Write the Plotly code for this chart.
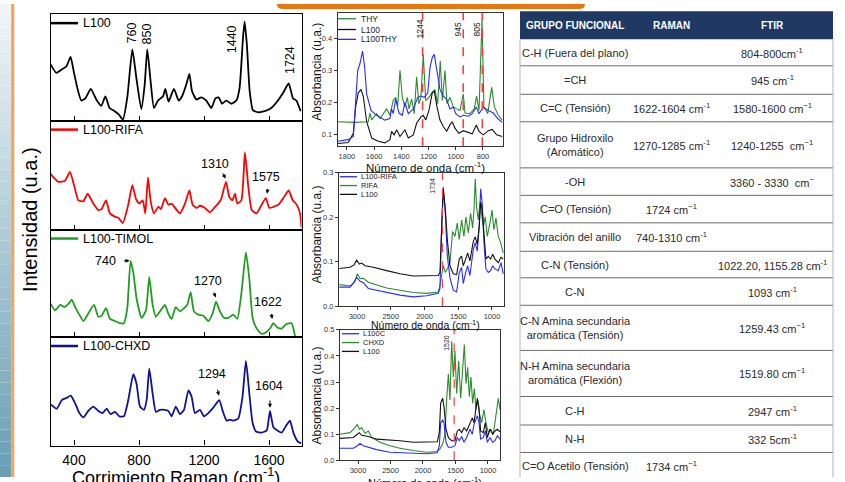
import plotly.graph_objects as go

W, H = 845, 482
FONT = "Liberation Sans, Arial, sans-serif"

# ---------------- Raman data (wavenumber cm-1, relative intensity per sub-panel) -------------
raman_ticks = [400, 800, 1200, 1600]

raman_l100_x = [256,291,322,353,379,400,425,445,470,503,537,568,593,619,650,675,701,728,759,784,
                814,835,851,872,892,917,948,962,982,1015,1044,1065,1091,1110,1126,1153,1183,1214,1245,1270,
                1290,1311,1337,1368,1399,1419,1440,1450,1464,1481,1501,1532,1573,1614,1655,1686,1721,1748,1768,1795]
raman_l100_y = [0.53,0.45,0.48,0.51,0.60,0.45,0.28,0.19,0.21,0.30,0.20,0.14,0.23,0.12,0.09,0.06,0.01,0.22,0.67,0.40,
                0.11,0.34,0.67,0.36,0.12,0.19,0.23,0.30,0.18,0.30,0.19,0.23,0.34,0.44,0.28,0.20,0.22,0.19,0.12,0.21,
                0.22,0.16,0.19,0.16,0.19,0.31,0.78,0.93,0.71,0.28,0.10,0.08,0.09,0.12,0.19,0.26,0.35,0.21,0.19,0.09]

raman_rifa_x = [257,303,345,375,400,427,457,484,519,550,570,597,621,652,673,700,734,759,782,802,
                823,839,855,872,892,919,935,960,980,1001,1022,1052,1083,1110,1130,1155,1175,1206,1237,1268,
                1303,1335,1356,1374,1391,1405,1430,1452,1473,1494,1524,1555,1580,1602,1627,1658,1688,1721,1746,1770,
                1791,1800]
raman_rifa_y = [0.51,0.44,0.45,0.53,0.41,0.27,0.26,0.33,0.24,0.18,0.19,0.27,0.15,0.12,0.11,0.06,0.23,0.41,0.28,0.24,
                0.27,0.15,0.48,0.26,0.15,0.21,0.19,0.29,0.23,0.24,0.20,0.15,0.24,0.36,0.23,0.20,0.22,0.20,0.16,0.21,
                0.27,0.44,0.30,0.27,0.33,0.24,0.27,0.71,0.39,0.18,0.15,0.23,0.29,0.20,0.21,0.23,0.29,0.36,0.27,0.23,
                0.15,0.02]

raman_timol_x = [257,284,315,341,366,386,407,433,458,488,523,550,570,597,621,652,683,707,728,748,
                 765,785,816,843,863,884,904,929,960,980,1001,1026,1052,1077,1097,1118,1138,1165,1196,1227,
                 1253,1274,1298,1323,1350,1380,1405,1431,1458,1479,1499,1524,1555,1586,1610,1627,1652,1678,1704,1739,
                 1760,1768]
raman_timol_y = [0.31,0.25,0.30,0.28,0.31,0.35,0.28,0.21,0.15,0.22,0.30,0.19,0.20,0.27,0.17,0.15,0.13,0.13,0.27,0.71,
                 0.60,0.36,0.18,0.25,0.56,0.30,0.19,0.24,0.30,0.22,0.17,0.28,0.24,0.27,0.30,0.42,0.24,0.21,0.20,0.15,
                 0.22,0.33,0.24,0.18,0.18,0.21,0.17,0.42,0.79,0.54,0.18,0.08,0.03,0.05,0.09,0.13,0.09,0.08,0.12,0.13,
                 0.01,-0.06]

raman_chxd_x = [257,294,325,355,380,407,433,458,488,519,550,576,601,625,652,679,707,734,765,785,
                806,830,847,863,884,904,929,960,980,1001,1026,1052,1077,1104,1124,1144,1175,1200,1227,1257,
                1294,1315,1339,1360,1380,1411,1437,1458,1479,1499,1520,1555,1586,1606,1627,1652,1678,1704,1729,1750,
                1776,1800]
raman_chxd_y = [0.38,0.34,0.42,0.44,0.46,0.39,0.30,0.26,0.32,0.36,0.32,0.30,0.34,0.29,0.31,0.27,0.27,0.42,0.66,0.57,
                0.36,0.33,0.42,0.71,0.48,0.31,0.33,0.33,0.32,0.27,0.36,0.29,0.33,0.51,0.45,0.30,0.33,0.27,0.30,0.35,
                0.42,0.32,0.23,0.24,0.23,0.25,0.45,0.78,0.48,0.21,0.13,0.12,0.14,0.32,0.17,0.14,0.12,0.18,0.23,0.12,
                0.04,0.02]

raman_names = ["L100", "L100-RIFA", "L100-TIMOL", "L100-CHXD"]
raman_colors = ["#000000", "#ff0000", "#1f9e1f", "#10109a"]

# peak labels: (panel, wavenumber, level, text, rotated)
raman_labels = [(1, 757, 0.82, "760", True), (1, 855, 0.82, "850", True),
                (1, 1372, 0.765, "1440", True), (1, 1729, 0.57, "1724", True),
                (2, 1268, 0.60, "1310", False), (2, 1582, 0.48, "1575", False),
                (3, 591, 0.71, "740", False), (3, 1225, 0.52, "1270", False), (3, 1594, 0.33, "1622", False),
                (4, 1249, 0.66, "1294", False), (4, 1600, 0.55, "1604", False)]
# arrows: (panel, head wn, head level, tail wn, tail level)
raman_arrows = [(2, 1333, 0.47, 1311, 0.53), (2, 1588, 0.33, 1594, 0.39),
                (3, 742, 0.71, 698, 0.71), (3, 1272, 0.37, 1257, 0.43), (3, 1620, 0.17, 1613, 0.23),
                (4, 1292, 0.46, 1281, 0.53), (4, 1606, 0.35, 1606, 0.43)]

# ---------------- FTIR data (wavenumber cm-1, absorbance) ----------------
ftir1_thy_x = [1868,1741,1643,1631,1618,1582,1557,1508,1484,1460,1442,1427,1410,1393,1374,1356,1344,1324,1305,1288,
               1271,1256,1239,1221,1197,1177,1153,1133,1114,1099,1079,1065,1043,1018,994,969,945,932,896,864,
               847,829,807,793,765,748,736,716,687,658]
ftir1_thy_y = [0.14,0.138,0.14,0.167,0.146,0.165,0.15,0.18,0.16,0.206,0.216,0.19,0.30,0.216,0.186,0.216,0.18,0.21,0.165,0.28,
               0.196,0.216,0.35,0.206,0.216,0.23,0.24,0.196,0.33,0.206,0.30,0.196,0.216,0.186,0.18,0.175,0.226,0.167,0.165,0.18,
               0.22,0.175,0.46,0.186,0.165,0.216,0.247,0.186,0.16,0.145]
ftir1_l100_x = [1868,1790,1753,1736,1717,1697,1680,1655,1618,1570,1521,1484,1472,1453,1435,1410,1374,1349,1312,1288,
                1256,1239,1221,1197,1173,1158,1138,1116,1091,1067,1043,1026,1006,977,945,908,879,849,829,798,
                761,732,700,658]
ftir1_l100_y = [0.072,0.075,0.104,0.186,0.23,0.24,0.22,0.14,0.089,0.079,0.074,0.084,0.11,0.099,0.115,0.094,0.115,0.089,0.099,0.135,
                0.155,0.16,0.145,0.175,0.23,0.236,0.186,0.145,0.124,0.11,0.13,0.14,0.12,0.104,0.112,0.106,0.102,0.13,0.11,0.099,
                0.112,0.116,0.099,0.094]
ftir1_l100thy_x = [1868,1790,1753,1736,1721,1705,1685,1670,1655,1623,1582,1521,1484,1472,1460,1442,1417,1393,1374,1349,
                   1312,1280,1256,1231,1206,1189,1173,1158,1138,1116,1091,1067,1043,1018,1000,969,945,908,879,849,
                   829,798,761,724,692,658]
ftir1_l100thy_y = [0.079,0.084,0.094,0.206,0.30,0.32,0.36,0.31,0.226,0.175,0.16,0.145,0.15,0.18,0.165,0.21,0.167,0.16,0.20,0.165,
                   0.18,0.216,0.22,0.216,0.23,0.31,0.34,0.35,0.29,0.24,0.22,0.21,0.18,0.186,0.165,0.155,0.16,0.157,0.165,0.186,
                   0.165,0.186,0.175,0.167,0.15,0.138]
ftir1_marks = [1244, 945, 805]

ftir2_l100_x = [3262,3104,3044,3005,2965,2930,2882,2758,2560,2363,2166,1968,1796,1771,1746,1722,1692,1662,1623,1574,
                1524,1485,1450,1426,1390,1361,1327,1277,1248,1218,1189,1168,1144,1119,1090,1055,1020,990,956,907,867,833]
ftir2_l100_y = [0.085,0.0875,0.093,0.104,0.095,0.097,0.091,0.0875,0.080,0.073,0.068,0.068,0.069,0.076,0.18,0.264,0.22,0.15,0.091,0.073,
                0.071,0.106,0.113,0.091,0.106,0.12,0.102,0.146,0.156,0.139,0.18,0.234,0.216,0.157,0.106,0.112,0.106,0.117,0.106,0.098,0.11,0.106]
ftir2_l100rifa_x = [3262,3104,3059,3005,2955,2906,2832,2709,2560,2363,2166,1968,1796,1771,1746,1722,1692,1662,1623,1574,
                    1524,1485,1450,1426,1390,1361,1327,1277,1248,1218,1189,1168,1144,1119,1090,1055,1020,990,956,907,867,833]
ftir2_l100rifa_y = [0.043,0.043,0.051,0.065,0.056,0.053,0.040,0.036,0.031,0.025,0.021,0.0235,0.029,0.040,0.18,0.268,0.21,0.113,0.065,0.036,
                    0.032,0.076,0.087,0.051,0.076,0.091,0.069,0.128,0.143,0.124,0.18,0.264,0.23,0.143,0.084,0.076,0.08,0.091,0.084,0.08,0.098,0.073]
ftir2_rifa_x = [3262,3104,3034,2995,2955,2906,2832,2709,2560,2363,2166,1968,1796,1771,1746,1722,1692,1662,1623,1584,
                1549,1515,1485,1450,1416,1386,1351,1317,1287,1267,1248,1228,1203,1178,1154,1129,1100,1070,1030,1000,
                971,941,907,872,833]
ftir2_rifa_y = [0.0485,0.0455,0.054,0.073,0.062,0.063,0.054,0.0485,0.041,0.036,0.031,0.029,0.032,0.047,0.076,0.091,0.076,0.084,0.098,0.168,
                0.157,0.187,0.15,0.194,0.157,0.201,0.165,0.209,0.176,0.216,0.286,0.223,0.194,0.234,0.209,0.179,0.201,0.157,0.187,0.216,
                0.172,0.198,0.157,0.143,0.12]
ftir2_marks = [1734]

ftir3_l100_x = [3277,3072,3010,2979,2944,2892,2841,2713,2508,2354,2149,1943,1780,1749,1728,1697,1677,1646,1610,1559,
                1508,1472,1441,1405,1369,1328,1277,1241,1215,1185,1164,1138,1113,1072,1041,1010,969,928,892,856,815]
ftir3_l100_y = [0.084,0.0875,0.10,0.106,0.096,0.094,0.091,0.081,0.079,0.075,0.069,0.069,0.071,0.106,0.219,0.2375,0.206,0.119,0.0875,0.075,
                0.075,0.1125,0.119,0.106,0.125,0.1125,0.144,0.1625,0.144,0.206,0.2375,0.20,0.1125,0.106,0.144,0.0875,0.119,0.10,0.1125,0.119,0.109]
ftir3_l100c_x = [3277,3072,3010,2969,2918,2841,2713,2508,2354,2149,1943,1780,1749,1728,1697,1677,1646,1610,1559,1508,
                 1472,1441,1405,1369,1328,1277,1241,1215,1185,1164,1138,1113,1072,1041,1010,969,928,892,856,815]
ftir3_l100c_y = [0.046,0.046,0.056,0.065,0.056,0.05,0.041,0.031,0.029,0.025,0.025,0.029,0.056,0.144,0.154,0.144,0.069,0.05,0.05,0.056,
                 0.0875,0.075,0.091,0.069,0.0875,0.119,0.10,0.1375,0.156,0.171,0.144,0.081,0.0875,0.1125,0.069,0.0875,0.069,0.075,0.094,0.081]
ftir3_chxd_x = [3277,3123,3046,3010,2979,2944,2892,2841,2790,2662,2508,2354,2149,1943,1780,1739,1697,1662,1636,1610,
                1585,1559,1533,1508,1482,1451,1420,1390,1364,1338,1313,1287,1262,1236,1210,1185,1159,1133,1097,1062,
                1031,995,959,918,877,841,815]
ftir3_chxd_y = [0.10,0.106,0.125,0.1375,0.119,0.125,0.104,0.1125,0.0875,0.069,0.056,0.046,0.0375,0.031,0.034,0.044,0.0625,0.10,0.231,0.331,
                0.231,0.456,0.319,0.419,0.256,0.381,0.2375,0.356,0.444,0.294,0.356,0.244,0.319,0.219,0.275,0.194,0.231,0.181,0.144,0.194,
                0.144,0.106,0.119,0.10,0.169,0.2375,0.194]
ftir3_marks = [1520]

FT_GREEN, FT_BLACK, FT_BLUE = "#2a8c2a", "#111111", "#2b2bff"

# ---------------- Table ----------------
table_header = ["GRUPO FUNCIONAL", "RAMAN", "FTIR"]
table_groups = ["C-H (Fuera del plano)", "=CH", "C=C (Tensión)", "Grupo Hidroxilo<br>(Aromático)", "-OH",
                "C=O (Tensión)", "Vibración del anillo", "C-N (Tensión)", "C-N",
                "C-N Amina secundaria<br>aromática (Tensión)", "N-H Amina secundaria<br>aromática (Flexión)",
                "C-H", "N-H", "C=O Acetilo (Tensión)"]
table_raman = ["", "", "1622-1604 cm<sup>-1</sup>", "1270-1285 cm<sup>-1</sup>", "", "1724 cm<sup>−1</sup>",
               "740-1310 cm<sup>-1</sup>", "", "", "", "", "", "", "1734 cm<sup>−1</sup>"]
table_ftir = ["804-800cm<sup>-1</sup>", "945 cm<sup>-1</sup>", "1580-1600 cm<sup>−1</sup>", "1240-1255  cm<sup>−1</sup>",
              "3360 - 3330  cm<sup>−</sup>", "", "", "1022.20, 1155.28 cm<sup>-1</sup>", "1093 cm<sup>-1</sup>",
              "1259.43 cm<sup>−1</sup>", "1519.80 cm<sup>−1</sup>", "2947 cm<sup>-1</sup>", "332 5cm<sup>-1</sup>", ""]


def PX(x):
    return x / W


def PY(y):
    return 1 - y / H


def note(x, y, text, size, color="black", xanchor="center", yanchor="middle", angle=0, xref="paper", yref="paper"):
    return dict(xref=xref, yref=yref, x=x, y=y, text=text, showarrow=False, xanchor=xanchor, yanchor=yanchor,
                textangle=angle, align="center", font=dict(size=size, color=color, family=FONT))


fig = go.Figure()
shapes, annotations = [], []
layout_axes = {}

# ---------- Raman panels ----------
raman_bounds = [(10.5, 119), (119, 230), (230, 339.5), (339.5, 450)]
raman_data = [(raman_l100_x, raman_l100_y), (raman_rifa_x, raman_rifa_y),
              (raman_timol_x, raman_timol_y), (raman_chxd_x, raman_chxd_y)]
for i, ((top, bot), (xs, ys), name, col) in enumerate(zip(raman_bounds, raman_data, raman_names, raman_colors), start=1):
    xk = "xaxis" if i == 1 else f"xaxis{i}"
    yk = "yaxis" if i == 1 else f"yaxis{i}"
    xr = "x" if i == 1 else f"x{i}"
    yr = "y" if i == 1 else f"y{i}"
    layout_axes[xk] = dict(domain=[PX(50.7), PX(301.5)], range=[256.6, 1800], anchor=yr,
                           showline=True, mirror=True, linecolor="black", linewidth=1.2,
                           ticks="inside", ticklen=5, tickwidth=1.2, tickcolor="black",
                           tickvals=raman_ticks, showticklabels=(i == 4), ticklabelstandoff=2,
                           tickfont=dict(size=14, color="black", family=FONT),
                           showgrid=False, zeroline=False)
    layout_axes[yk] = dict(domain=[PY(bot), PY(top)], range=[0, 1], anchor=xr,
                           showline=True, mirror=True, linecolor="black", linewidth=1.2,
                           ticks="", showticklabels=False, showgrid=False, zeroline=False)
    fig.add_trace(go.Scatter(x=xs, y=ys, xaxis=xr, yaxis=yr, mode="lines",
                             line=dict(color=col, width=1.8, shape="spline", smoothing=0.5),
                             showlegend=False, hoverinfo="skip"))
    ly = top + 9
    shapes.append(dict(type="line", xref="paper", yref="paper", x0=PX(51), x1=PX(78), y0=PY(ly), y1=PY(ly),
                       line=dict(color=col, width=2.5)))
    annotations.append(note(PX(80.5), PY(ly), name, 12.5, xanchor="left"))

for (p, xv, yv, t, rot) in raman_labels:
    xr = "x" if p == 1 else f"x{p}"
    yr = "y" if p == 1 else f"y{p}"
    annotations.append(note(xv, yv, t, 12.5, angle=-90 if rot else 0, xref=xr, yref=yr))
for (p, hx, hy, tx, ty) in raman_arrows:
    xr = "x" if p == 1 else f"x{p}"
    yr = "y" if p == 1 else f"y{p}"
    annotations.append(dict(xref=xr, yref=yr, x=hx, y=hy, axref=xr, ayref=yr, ax=tx, ay=ty, text="",
                            showarrow=True, arrowhead=2, arrowsize=0.8, arrowwidth=1, arrowcolor="black"))

annotations.append(note(PX(30), PY(220), "Intensidad (u.a.)", 20, angle=-90))
annotations.append(note(PX(176), PY(468), "Corrimiento Raman (cm<sup>-1</sup>)", 18, yanchor="top"))

# ---------- FTIR panels ----------
ftir_panels = [
    dict(n=5, xd=(337.7, 502.7), yd=(9, 145), xr=[1868, 655], yr=[0.0633, 0.4796],
         xt=[1800, 1600, 1400, 1200, 1000, 800], yt=[0.1, 0.2, 0.3, 0.4],
         series=[(ftir1_thy_x, ftir1_thy_y, "THY", FT_GREEN), (ftir1_l100_x, ftir1_l100_y, "L100", FT_BLACK),
                 (ftir1_l100thy_x, ftir1_l100thy_y, "L100THY", FT_BLUE)],
         marks=ftir1_marks, mark_labels=["1244", "945", "805"], mark_lx=[1263, 984, 845], mark_ly=0.4275,
         mark_font=8.5, leg_y=[15, 26, 36], leg_x=(338, 356, 359), leg_font=8.5, dash_w=1.6,
         ytitle_y=69, xtitle_y=166, xtitle_font=11.5),
    dict(n=6, xd=(339, 504), yd=(172, 308), xr=[3267, 822], yr=[0, 0.3],
         xt=[3000, 2500, 2000, 1500, 1000], yt=[0.0, 0.1, 0.2, 0.3],
         series=[(ftir2_l100rifa_x, ftir2_l100rifa_y, "L100-RIFA", FT_BLUE), (ftir2_rifa_x, ftir2_rifa_y, "RIFA", FT_GREEN),
                 (ftir2_l100_x, ftir2_l100_y, "L100", FT_BLACK)],
         marks=ftir2_marks, mark_labels=["1734"], mark_lx=[1874], mark_ly=0.271,
         mark_font=7, leg_y=[176, 185, 194], leg_x=(340, 357, 359), leg_font=7.5, dash_w=1.2,
         ytitle_y=235, xtitle_y=326.5, xtitle_font=10.5),
    dict(n=7, xd=(340, 500), yd=(332, 465), xr=[3277, 815], yr=[0, 0.5],
         xt=[3000, 2500, 2000, 1500, 1000], yt=[0.0, 0.1, 0.2, 0.3, 0.4, 0.5],
         series=[(ftir3_l100c_x, ftir3_l100c_y, "L100C", FT_BLUE), (ftir3_chxd_x, ftir3_chxd_y, "CHXD", FT_GREEN),
                 (ftir3_l100_x, ftir3_l100_y, "L100", FT_BLACK)],
         marks=ftir3_marks, mark_labels=["1520"], mark_lx=[1631], mark_ly=0.45,
         mark_font=7, leg_y=[336, 345, 354], leg_x=(342, 359, 361), leg_font=7.5, dash_w=1.2,
         ytitle_y=399, xtitle_y=487, xtitle_font=11),
]
for pnl in ftir_panels:
    n = pnl["n"]
    xr, yr = f"x{n}", f"y{n}"
    common = dict(showline=True, mirror=True, linecolor="#333333", linewidth=1, ticks="outside", ticklen=3,
                  tickwidth=1, tickcolor="#333333", showgrid=False, zeroline=False,
                  tickfont=dict(size=7.5, color="#333333", family=FONT))
    layout_axes[f"xaxis{n}"] = dict(domain=[PX(pnl["xd"][0]), PX(pnl["xd"][1])], range=pnl["xr"], anchor=yr,
                                    tickvals=pnl["xt"], ticklabelstandoff=0, **common)
    layout_axes[f"yaxis{n}"] = dict(domain=[PY(pnl["yd"][1]), PY(pnl["yd"][0])], range=pnl["yr"], anchor=xr,
                                    tickvals=pnl["yt"], tickformat=".1f", **common)
    order = sorted(pnl["series"], key=lambda s: 0 if s[3] == FT_GREEN else 1)
    for xs, ys, name, col in order:
        fig.add_trace(go.Scatter(x=xs, y=ys, xaxis=xr, yaxis=yr, mode="lines",
                                 line=dict(color=col, width=1.1), showlegend=False, hoverinfo="skip"))
    for (xs, ys, name, col), ly in zip(pnl["series"], pnl["leg_y"]):
        x0, x1, xt = pnl["leg_x"]
        shapes.append(dict(type="line", xref="paper", yref="paper", x0=PX(x0), x1=PX(x1), y0=PY(ly), y1=PY(ly),
                           line=dict(color=col, width=1.3)))
        annotations.append(note(PX(xt), PY(ly), name, pnl["leg_font"], color="#222222", xanchor="left"))
    for m, lab, lx in zip(pnl["marks"], pnl["mark_labels"], pnl["mark_lx"]):
        shapes.append(dict(type="line", xref=xr, yref=f"{yr} domain", x0=m, x1=m, y0=0, y1=1,
                           line=dict(color="#ff3b3b", width=pnl["dash_w"], dash="dash")))
        annotations.append(note(lx, pnl["mark_ly"], lab, pnl["mark_font"], color="#222222", angle=-90,
                                xref=xr, yref=yr))
    annotations.append(note(PX(317), PY(pnl["ytitle_y"]), "Absorbancia (u.a.)", 12, color="#111111", angle=-90))
    annotations.append(note(PX(425), PY(pnl["xtitle_y"]), "Número de onda (cm<sup>-1</sup>)", pnl["xtitle_font"],
                            color="#111111"))

# ---------- Table ----------
row_edges = [36, 63, 92, 120, 167, 195, 223, 252, 279, 307, 353, 400, 429, 457, 486]
col_centers = [575, 671, 772]
TL, TR = 520, 833
shapes.append(dict(type="rect", xref="paper", yref="paper", x0=PX(TL), x1=PX(TR), y0=PY(36), y1=PY(7.5),
                   fillcolor="#1f3864", line=dict(width=0)))
for t, cx in zip(table_header, col_centers):
    annotations.append(note(PX(cx), PY(21.5), f"<b>{t}</b>", 10, color="white"))
for e in row_edges[1:-1]:
    shapes.append(dict(type="line", xref="paper", yref="paper", x0=PX(TL), x1=PX(TR), y0=PY(e), y1=PY(e),
                       line=dict(color="#6b6b6b", width=1)))
for xb in (TL, TR):
    shapes.append(dict(type="line", xref="paper", yref="paper", x0=PX(xb), x1=PX(xb), y0=PY(36), y1=PY(482),
                       line=dict(color="#b5b5b5", width=1)))
for k in range(len(table_groups)):
    cy = (row_edges[k] + row_edges[k + 1]) / 2 if k < len(table_groups) - 1 else 470.5
    for txt, cx in zip((table_groups[k], table_raman[k], table_ftir[k]), col_centers):
        if txt:
            annotations.append(note(PX(cx), PY(cy), txt, 11, color="#2a2a2a"))

# ---------- decorative background ----------
top_c = (240, 245, 247)
bot_c = (106, 159, 181)
nb = 40
for b in range(nb):
    f = b / (nb - 1)
    c = tuple(int(round(top_c[j] + (bot_c[j] - top_c[j]) * f)) for j in range(3))
    shapes.append(dict(type="rect", xref="paper", yref="paper", x0=0, x1=PX(11.2),
                       y0=PY(H * (b + 1) / nb), y1=PY(H * b / nb), fillcolor=f"rgb{c}", line=dict(width=0),
                       layer="below"))
shapes.append(dict(type="rect", xref="paper", yref="paper", x0=PX(11.2), x1=PX(14.3), y0=0, y1=1,
                   fillcolor="#f2a25c", line=dict(width=0), layer="below"))
x0, x1, yb, r = PX(277), PX(585), PY(5), 5
path = (f"M {x0},1 L {x1},1 L {x1},{PY(5 - r)} Q {x1},{yb} {PX(585 - r)},{yb} "
        f"L {PX(277 + r)},{yb} Q {x0},{yb} {x0},{PY(5 - r)} Z")
shapes.append(dict(type="path", xref="paper", yref="paper", path=path, fillcolor="#e8770f",
                   line=dict(width=0), layer="below"))

fig.update_layout(width=W, height=H, margin=dict(l=0, r=0, t=0, b=0), paper_bgcolor="white",
                  plot_bgcolor="white", showlegend=False, shapes=shapes, annotations=annotations,
                  font=dict(family=FONT), **layout_axes)

fig.write_html("out.html", config={"displayModeBar": False},
               post_script="document.body.style.margin='0px';document.body.style.overflow='hidden';")
